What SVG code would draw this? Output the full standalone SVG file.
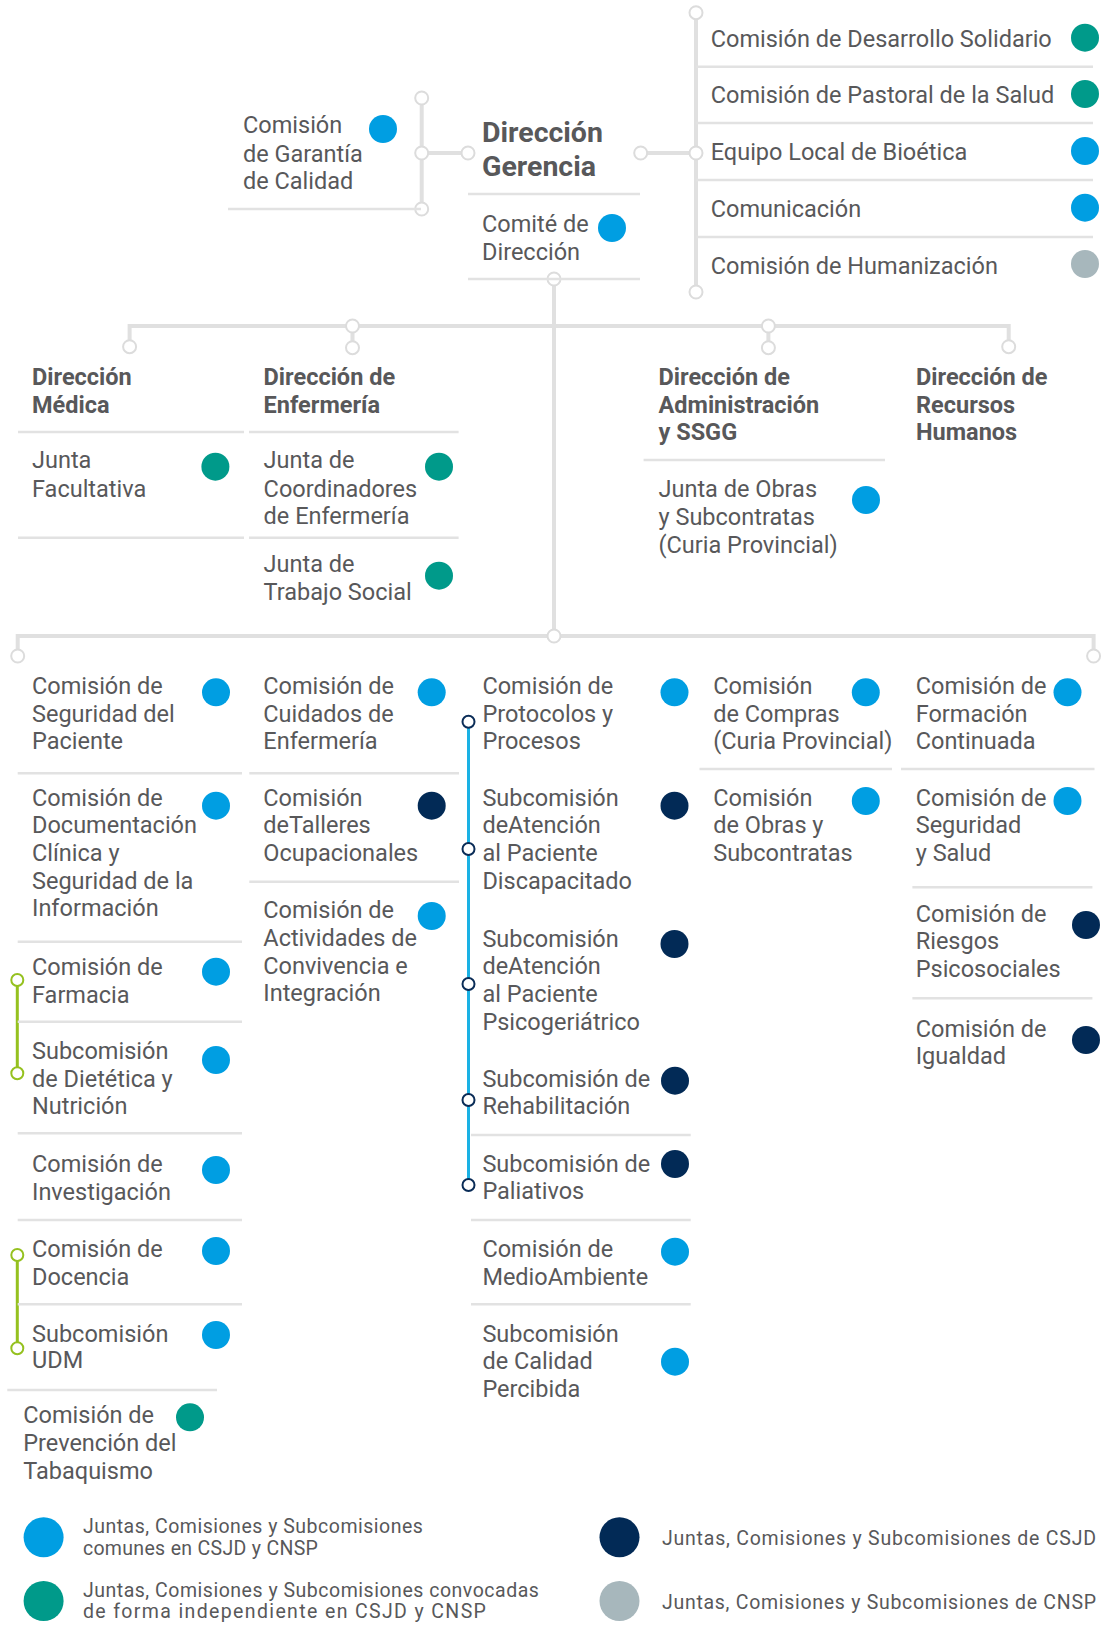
<svg xmlns="http://www.w3.org/2000/svg" width="1102" height="1625" viewBox="0 0 1102 1625">
<style>
.t{font-family:Roboto,"Liberation Sans",sans-serif;font-size:23.5px;fill:#58585a}
.h{font-weight:bold}
.g{font-size:28.5px;font-weight:bold}
.lg{font-size:19.5px}
.sep{stroke:#e2e2e2;stroke-width:2.5;fill:none}
.con{stroke:#e0e0e0;stroke-width:4;fill:none}
.knot{fill:#fff;stroke:#dcdcdc;stroke-width:2}
.cy{stroke:#1ab1e4;stroke-width:3;fill:none}
.cyk{fill:#fff;stroke:#0a2c57;stroke-width:2}
.gr{stroke:#95c11f;stroke-width:3;fill:none}
.grk{fill:#fff;stroke:#95c11f;stroke-width:2}
.dB{fill:#009ee2}.dT{fill:#009a8a}.dN{fill:#022a56}.dG{fill:#a7b7bc}
</style>
<rect width="1102" height="1625" fill="#fff"/>
<g id="connectors">
<path class="con" d="M421.7,98V209M421.7,153H468M640.7,153H696M696,12.7V292M554,279V636M129.6,346.7V326H1008.7V346.7M352.5,326V347.7M768.4,326V347.7M17.7,656V636H1093.6V656"/>
<g class="knot">
<circle cx="421.7" cy="98" r="6.5"/><circle cx="421.7" cy="153" r="6.5"/><circle cx="421.7" cy="209" r="6.5"/><circle cx="468" cy="153" r="6.5"/>
<circle cx="640.7" cy="153" r="6.5"/><circle cx="696" cy="12.7" r="6.5"/><circle cx="696" cy="153" r="6.5"/><circle cx="696" cy="292" r="6.5"/>
<circle cx="554" cy="279" r="6.5"/><circle cx="554" cy="636" r="6.5"/>
<circle cx="129.6" cy="346.7" r="6.5"/><circle cx="352.5" cy="326" r="6.5"/><circle cx="352.5" cy="347.7" r="6.5"/><circle cx="768.4" cy="326" r="6.5"/><circle cx="768.4" cy="347.7" r="6.5"/><circle cx="1008.7" cy="346.7" r="6.5"/>
<circle cx="17.7" cy="656" r="6.5"/><circle cx="1093.6" cy="656" r="6.5"/>
</g>
<path class="cy" d="M468.5,721.7V1185"/>
<g class="cyk"><circle cx="468.5" cy="721.7" r="6"/><circle cx="468.5" cy="849" r="6"/><circle cx="468.5" cy="984" r="6"/><circle cx="468.5" cy="1100" r="6"/><circle cx="468.5" cy="1185" r="6"/></g>
<path class="gr" d="M17.3,980V1073.3M17.3,1255V1348.3"/>
<g class="grk"><circle cx="17.3" cy="980" r="6"/><circle cx="17.3" cy="1073.3" r="6"/><circle cx="17.3" cy="1255" r="6"/><circle cx="17.3" cy="1348.3" r="6"/></g>
</g>
<g id="separators" class="sep">
<path d="M228,209H421M468,194H640M468,279H640M696,66.7H1093M696,123H1093M696,180H1093M696,237H1093"/>
<path d="M18,432H244M249,432H458.6M18,537.7H244M249,537.7H458.6M643.6,460H885"/>
<path d="M17.7,773.3H242M17.7,941.7H242M17.7,1021.7H242M17.7,1133.3H242M17.7,1220H242M17.7,1304.3H242M7.3,1390H217"/>
<path d="M249.3,773.3H459M249.3,881.7H459"/>
<path d="M471,1135H690.7M471,1220H690.7M471,1304.3H690.7"/>
<path d="M699.5,769H892M901,769H1094.5M912.4,887.3H1092.4M912.4,998.3H1092.4"/>
</g>
<g id="garantia"><text class="t" x="243" y="133.3"><tspan x="243">Comisión</tspan><tspan x="243" y="161.7">de Garantía</tspan><tspan x="243" y="189.3">de Calidad</tspan></text><circle class="dB" cx="383" cy="129" r="14"/></g>
<g id="gerencia"><text class="t g" x="482" y="142"><tspan x="482">Dirección</tspan><tspan x="482" y="176">Gerencia</tspan></text></g>
<g id="comite"><text class="t" x="482" y="232"><tspan x="482">Comité de</tspan><tspan x="482" y="259.5">Dirección</tspan></text><circle class="dB" cx="612" cy="228" r="14"/></g>
<g id="desarrollo"><text class="t" x="710.7" y="46.7">Comisión de Desarrollo Solidario</text><circle class="dT" cx="1085" cy="37.7" r="14"/></g>
<g id="pastoral"><text class="t" x="710.7" y="103">Comisión de Pastoral de la Salud</text><circle class="dT" cx="1085" cy="94" r="14"/></g>
<g id="bioetica"><text class="t" x="710.7" y="160">Equipo Local de Bioética</text><circle class="dB" cx="1085" cy="151" r="14"/></g>
<g id="comunicacion"><text class="t" x="710.7" y="216.7">Comunicación</text><circle class="dB" cx="1085" cy="207.7" r="14"/></g>
<g id="humanizacion"><text class="t" x="710.7" y="274">Comisión de Humanización</text><circle class="dG" cx="1085" cy="264" r="14"/></g>
<g id="medica"><text class="t h" x="32" y="385"><tspan x="32">Dirección</tspan><tspan x="32" y="413">Médica</tspan></text></g>
<g id="facultativa"><text class="t" x="32" y="468.3"><tspan x="32">Junta</tspan><tspan x="32" y="496.7">Facultativa</tspan></text><circle class="dT" cx="215.4" cy="466.7" r="14"/></g>
<g id="enfermeria"><text class="t h" x="263.6" y="385"><tspan x="263.6">Dirección de</tspan><tspan x="263.6" y="413">Enfermería</tspan></text></g>
<g id="coordinadores"><text class="t" x="263.6" y="468.3"><tspan x="263.6">Junta de</tspan><tspan x="263.6" y="496.7">Coordinadores</tspan><tspan x="263.6" y="524">de Enfermería</tspan></text><circle class="dT" cx="439" cy="466.7" r="14"/></g>
<g id="trabajosocial"><text class="t" x="263.6" y="571.7"><tspan x="263.6">Junta de</tspan><tspan x="263.6" y="600">Trabajo Social</tspan></text><circle class="dT" cx="439" cy="575.7" r="14"/></g>
<g id="administracion"><text class="t h" x="658.5" y="385"><tspan x="658.5">Dirección de</tspan><tspan x="658.5" y="413">Administración</tspan><tspan x="658.5" y="440">y SSGG</tspan></text></g>
<g id="juntaobras"><text class="t" x="658.5" y="496.7"><tspan x="658.5">Junta de Obras</tspan><tspan x="658.5" y="525">y Subcontratas</tspan><tspan x="658.5" y="553.3">(Curia Provincial)</tspan></text><circle class="dB" cx="866" cy="500" r="14"/></g>
<g id="rrhh"><text class="t h" x="916" y="385"><tspan x="916">Dirección de</tspan><tspan x="916" y="413">Recursos</tspan><tspan x="916" y="440">Humanos</tspan></text></g>
<g id="segpaciente"><text class="t" x="32" y="694"><tspan x="32">Comisión de</tspan><tspan x="32" y="721.7">Seguridad del</tspan><tspan x="32" y="749.3">Paciente</tspan></text><circle class="dB" cx="216" cy="692.3" r="14"/></g>
<g id="documentacion"><text class="t" x="32" y="805.7"><tspan x="32">Comisión de</tspan><tspan x="32" y="833.3">Documentación</tspan><tspan x="32" y="861">Clínica y</tspan><tspan x="32" y="888.7">Seguridad de la</tspan><tspan x="32" y="916.3">Información</tspan></text><circle class="dB" cx="216" cy="805.7" r="14"/></g>
<g id="farmacia"><text class="t" x="32" y="975"><tspan x="32">Comisión de</tspan><tspan x="32" y="1002.7">Farmacia</tspan></text><circle class="dB" cx="216" cy="971.7" r="14"/></g>
<g id="dietetica"><text class="t" x="32" y="1059"><tspan x="32">Subcomisión</tspan><tspan x="32" y="1086.7">de Dietética y</tspan><tspan x="32" y="1114.3">Nutrición</tspan></text><circle class="dB" cx="216" cy="1060" r="14"/></g>
<g id="investigacion"><text class="t" x="32" y="1171.7"><tspan x="32">Comisión de</tspan><tspan x="32" y="1200">Investigación</tspan></text><circle class="dB" cx="216" cy="1170" r="14"/></g>
<g id="docencia"><text class="t" x="32" y="1256.7"><tspan x="32">Comisión de</tspan><tspan x="32" y="1285">Docencia</tspan></text><circle class="dB" cx="216" cy="1251" r="14"/></g>
<g id="udm"><text class="t" x="32" y="1341.7"><tspan x="32">Subcomisión</tspan><tspan x="32" y="1368.3">UDM</tspan></text><circle class="dB" cx="216" cy="1335" r="14"/></g>
<g id="tabaquismo"><text class="t" x="23.3" y="1423.3"><tspan x="23.3">Comisión de</tspan><tspan x="23.3" y="1451">Prevención del</tspan><tspan x="23.3" y="1478.7">Tabaquismo</tspan></text><circle class="dT" cx="190" cy="1417.3" r="14"/></g>
<g id="cuidados"><text class="t" x="263.3" y="694"><tspan x="263.3">Comisión de</tspan><tspan x="263.3" y="721.7">Cuidados de</tspan><tspan x="263.3" y="749.3">Enfermería</tspan></text><circle class="dB" cx="431.7" cy="692.3" r="14"/></g>
<g id="talleres"><text class="t" x="263.3" y="805.7"><tspan x="263.3">Comisión</tspan><tspan x="263.3" y="833.3">deTalleres</tspan><tspan x="263.3" y="861">Ocupacionales</tspan></text><circle class="dN" cx="431.7" cy="805.7" r="14"/></g>
<g id="actividades"><text class="t" x="263.3" y="918.3"><tspan x="263.3">Comisión de</tspan><tspan x="263.3" y="946">Actividades de</tspan><tspan x="263.3" y="973.7">Convivencia e</tspan><tspan x="263.3" y="1001.3">Integración</tspan></text><circle class="dB" cx="431.7" cy="916" r="14"/></g>
<g id="protocolos"><text class="t" x="482.4" y="694"><tspan x="482.4">Comisión de</tspan><tspan x="482.4" y="721.7">Protocolos y</tspan><tspan x="482.4" y="749.3">Procesos</tspan></text><circle class="dB" cx="674.5" cy="692.3" r="14"/></g>
<g id="discapacitado"><text class="t" x="482.4" y="805.7"><tspan x="482.4">Subcomisión</tspan><tspan x="482.4" y="833.3">deAtención</tspan><tspan x="482.4" y="861">al Paciente</tspan><tspan x="482.4" y="888.7">Discapacitado</tspan></text><circle class="dN" cx="674.5" cy="805.7" r="14"/></g>
<g id="psicogeriatrico"><text class="t" x="482.4" y="946.7"><tspan x="482.4">Subcomisión</tspan><tspan x="482.4" y="974.3">deAtención</tspan><tspan x="482.4" y="1002">al Paciente</tspan><tspan x="482.4" y="1029.7">Psicogeriátrico</tspan></text><circle class="dN" cx="674.5" cy="944" r="14"/></g>
<g id="rehabilitacion"><text class="t" x="482.4" y="1086.7"><tspan x="482.4">Subcomisión de</tspan><tspan x="482.4" y="1114">Rehabilitación</tspan></text><circle class="dN" cx="675" cy="1080.7" r="14"/></g>
<g id="paliativos"><text class="t" x="482.4" y="1171.7"><tspan x="482.4">Subcomisión de</tspan><tspan x="482.4" y="1199">Paliativos</tspan></text><circle class="dN" cx="675" cy="1164" r="14"/></g>
<g id="medioambiente"><text class="t" x="482.4" y="1256.7"><tspan x="482.4">Comisión de</tspan><tspan x="482.4" y="1285">MedioAmbiente</tspan></text><circle class="dB" cx="675" cy="1251.7" r="14"/></g>
<g id="calidadpercibida"><text class="t" x="482.4" y="1341.7"><tspan x="482.4">Subcomisión</tspan><tspan x="482.4" y="1369.3">de Calidad</tspan><tspan x="482.4" y="1396.7">Percibida</tspan></text><circle class="dB" cx="675" cy="1361.7" r="14"/></g>
<g id="compras"><text class="t" x="713.2" y="694"><tspan x="713.2">Comisión</tspan><tspan x="713.2" y="721.7">de Compras</tspan><tspan x="713.2" y="749.3">(Curia Provincial)</tspan></text><circle class="dB" cx="865.8" cy="692.3" r="14"/></g>
<g id="obras"><text class="t" x="713.2" y="805.7"><tspan x="713.2">Comisión</tspan><tspan x="713.2" y="833.3">de Obras y</tspan><tspan x="713.2" y="861">Subcontratas</tspan></text><circle class="dB" cx="865.8" cy="801" r="14"/></g>
<g id="formacion"><text class="t" x="915.7" y="694"><tspan x="915.7">Comisión de</tspan><tspan x="915.7" y="721.7">Formación</tspan><tspan x="915.7" y="749.3">Continuada</tspan></text><circle class="dB" cx="1067.5" cy="692.3" r="14"/></g>
<g id="segsalud"><text class="t" x="915.7" y="805.7"><tspan x="915.7">Comisión de</tspan><tspan x="915.7" y="833.3">Seguridad</tspan><tspan x="915.7" y="861">y Salud</tspan></text><circle class="dB" cx="1067.5" cy="801" r="14"/></g>
<g id="riesgos"><text class="t" x="915.7" y="921.7"><tspan x="915.7">Comisión de</tspan><tspan x="915.7" y="949.3">Riesgos</tspan><tspan x="915.7" y="977">Psicosociales</tspan></text><circle class="dN" cx="1086" cy="925" r="14"/></g>
<g id="igualdad"><text class="t" x="915.7" y="1036.7"><tspan x="915.7">Comisión de</tspan><tspan x="915.7" y="1064.3">Igualdad</tspan></text><circle class="dN" cx="1086" cy="1040" r="14"/></g>
<g id="legend">
<circle class="dB" cx="43.6" cy="1537.3" r="20"/>
<text class="t lg" x="82.9" y="1533.3" textLength="340" lengthAdjust="spacing">Juntas, Comisiones y Subcomisiones</text>
<text class="t lg" x="82.9" y="1555" textLength="235" lengthAdjust="spacing">comunes en CSJD y CNSP</text>
<circle class="dT" cx="43.6" cy="1601" r="20"/>
<text class="t lg" x="82.9" y="1596.7" textLength="456" lengthAdjust="spacing">Juntas, Comisiones y Subcomisiones convocadas</text>
<text class="t lg" x="82.9" y="1618.3" textLength="403" lengthAdjust="spacing">de forma independiente en CSJD y CNSP</text>
<circle class="dN" cx="619.5" cy="1537.3" r="20"/>
<text class="t lg" x="662" y="1545" textLength="434" lengthAdjust="spacing">Juntas, Comisiones y Subcomisiones de CSJD</text>
<circle class="dG" cx="619.5" cy="1601" r="20"/>
<text class="t lg" x="662" y="1609" textLength="434" lengthAdjust="spacing">Juntas, Comisiones y Subcomisiones de CNSP</text>
</g>
</svg>
